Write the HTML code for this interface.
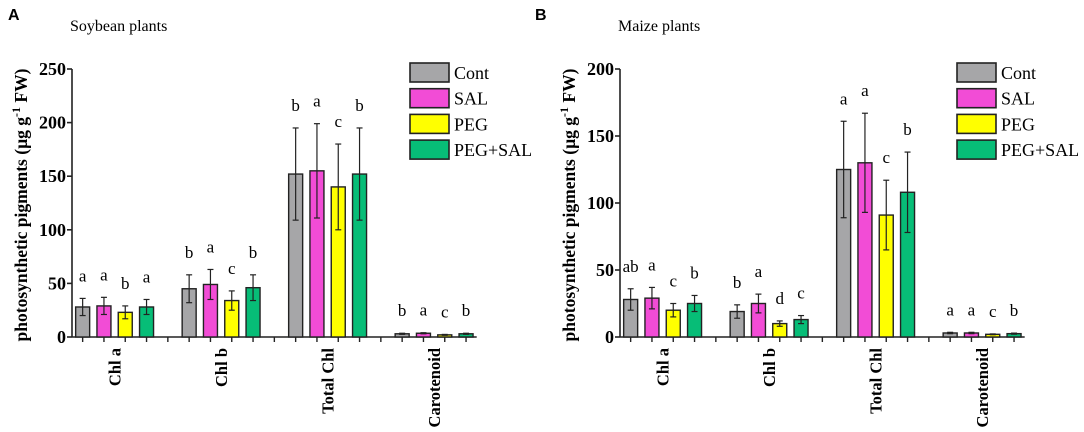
<!DOCTYPE html>
<html><head><meta charset="utf-8"><style>
body{margin:0;background:#fff;}
svg{display:block;font-family:"Liberation Serif",serif;}
</style></head><body>
<svg id="chart" width="1084" height="432" viewBox="0 0 1084 432" xmlns="http://www.w3.org/2000/svg"></svg>
<script>
const categories = ["Chl a","Chl b","Total Chl","Carotenoid"];
const seriesNames = ["Cont","SAL","PEG","PEG+SAL"];
const seriesColors = ["#a6a6a8","#f24cd6","#ffff00","#07bd77"];
// Soybean (panel A)
const soyCont = [28,45,152,3];
const soySal = [29,49,155,3.5];
const soyPeg = [23,34,140,2];
const soyPegSal = [28,46,152,3];
const soyContErr = [8,13,43,0.5];
const soySalErr = [8,14,44,0.5];
const soyPegErr = [6,9,40,0.4];
const soyPegSalErr = [7,12,43,0.5];
const soyLetters = [["a","a","b","a"],["b","a","c","b"],["b","a","c","b"],["b","a","c","b"]];
const soyTicks = [0,50,100,150,200,250];
// Maize (panel B)
const maizeCont = [28,19,125,3];
const maizeSal = [29,25,130,3];
const maizePeg = [20,10,91,2];
const maizePegSal = [25,13,108,2.5];
const maizeContErr = [8,5,36,0.5];
const maizeSalErr = [8,7,37,0.5];
const maizePegErr = [5,2,26,0.3];
const maizePegSalErr = [6,3,30,0.4];
const maizeLetters = [["ab","a","c","b"],["b","a","d","c"],["a","a","c","b"],["a","a","c","b"]];
const maizeTicks = [0,50,100,150,200];

const NS="http://www.w3.org/2000/svg";
const svg=document.getElementById("chart");
function mk(tag,attrs,parent,text){
  const e=document.createElementNS(NS,tag);
  for(const k in attrs)e.setAttribute(k,attrs[k]);
  if(text!==undefined)e.textContent=text;
  (parent||svg).appendChild(e);return e;
}
function panel(o){
  const g=mk("g",{});
  
  
  const x0=o.x0, slot=21.3, y0=337, yTop=69, yMax=o.ticks[o.ticks.length-1];
  const ys=v=>y0-(v/yMax)*(y0-yTop);
  const xs=(ci,si)=>x0+(ci*5+si+0.5)*slot;
  const xEnd=x0+19*slot;
  const lab=mk("text",{x:o.lx,y:20,"font-family":"Liberation Sans, sans-serif","font-weight":"bold","font-size":"16"},g,o.letter);
  
  
  const t=mk("text",{x:o.x0-2,y:31,"font-size":"16"},g,o.title);
  
  
  const ya=mk("line",{x1:x0,y1:yTop,x2:x0,y2:y0,stroke:"#222","stroke-width":"1.6"},g);
  
  
  o.ticks.forEach(v=>{
    mk("line",{x1:x0-5,y1:ys(v),x2:x0,y2:ys(v),stroke:"#222","stroke-width":"1.6"},g);
    const tl=mk("text",{x:x0-6,y:ys(v)+6,"text-anchor":"end","font-weight":"bold","font-size":"18"},g,v);
    
    
  });
  const yt=mk("text",{transform:`translate(${x0-45},205) rotate(-90)`,"text-anchor":"middle","font-weight":"bold","font-size":"17.5"},g);
  
  
  yt.innerHTML='photosynthetic pigments (µg g<tspan dy="-7" font-size="12">-1</tspan><tspan dy="7"> FW)</tspan>';
  const xa=mk("line",{x1:x0,y1:y0,x2:xEnd,y2:y0,stroke:"#222","stroke-width":"1.6"},g);
  
  
  for(let ci=0;ci<categories.length;ci++){
    for(let si=0;si<4;si++){
      const v=o.vals[si][ci],e=o.errs[si][ci],cx=xs(ci,si);
      const r=mk("rect",{x:cx-7,y:ys(v),width:14,height:y0-ys(v),fill:seriesColors[si],stroke:"#222","stroke-width":"1.4"},g);
      
      
      mk("line",{x1:cx,y1:ys(v+e),x2:cx,y2:ys(Math.max(0,v-e)),stroke:"#222","stroke-width":"1.2"},g);
      mk("line",{x1:cx-3,y1:ys(v+e),x2:cx+3,y2:ys(v+e),stroke:"#222","stroke-width":"1.2"},g);
      mk("line",{x1:cx-3,y1:ys(Math.max(0,v-e)),x2:cx+3,y2:ys(Math.max(0,v-e)),stroke:"#222","stroke-width":"1.2"},g);
      mk("line",{x1:cx,y1:y0,x2:cx,y2:y0+5,stroke:"#222","stroke-width":"1.4"},g);
      const sl=mk("text",{x:cx,y:ys(v+e)-17,"text-anchor":"middle","font-size":"17"},g,o.letters[ci][si]);
      
      
    }
    if(ci<3){const sx=x0+(ci*5+4.5)*slot;mk("line",{x1:sx,y1:y0,x2:sx,y2:y0+5,stroke:"#222","stroke-width":"1.4"},g);}
    const gc=(xs(ci,1)+xs(ci,2))/2;
    const cl=mk("text",{transform:`translate(${gc+6},${y0+11}) rotate(-90)`,"text-anchor":"end","font-weight":"bold","font-size":"16.5"},g,categories[ci]);
    
    
  }
  for(let si=0;si<4;si++){
    const ly=63+si*25.7;
    const lr=mk("rect",{x:o.legX,y:ly,width:39,height:19,fill:seriesColors[si],stroke:"#222","stroke-width":"1.6"},g);
    
    
    const lt=mk("text",{x:o.legX+44,y:ly+16,"font-size":"18"},g,seriesNames[si]);
    
    
  }
}
panel({name:"panel-soybean",letter:"A",lx:8,title:"Soybean plants",x0:72,ticks:soyTicks,
  vals:[soyCont,soySal,soyPeg,soyPegSal],errs:[soyContErr,soySalErr,soyPegErr,soyPegSalErr],letters:soyLetters,legX:410});
panel({name:"panel-maize",letter:"B",lx:535,title:"Maize plants",x0:620,ticks:maizeTicks,
  vals:[maizeCont,maizeSal,maizePeg,maizePegSal],errs:[maizeContErr,maizeSalErr,maizePegErr,maizePegSalErr],letters:maizeLetters,legX:957});
</script>
</body></html>
